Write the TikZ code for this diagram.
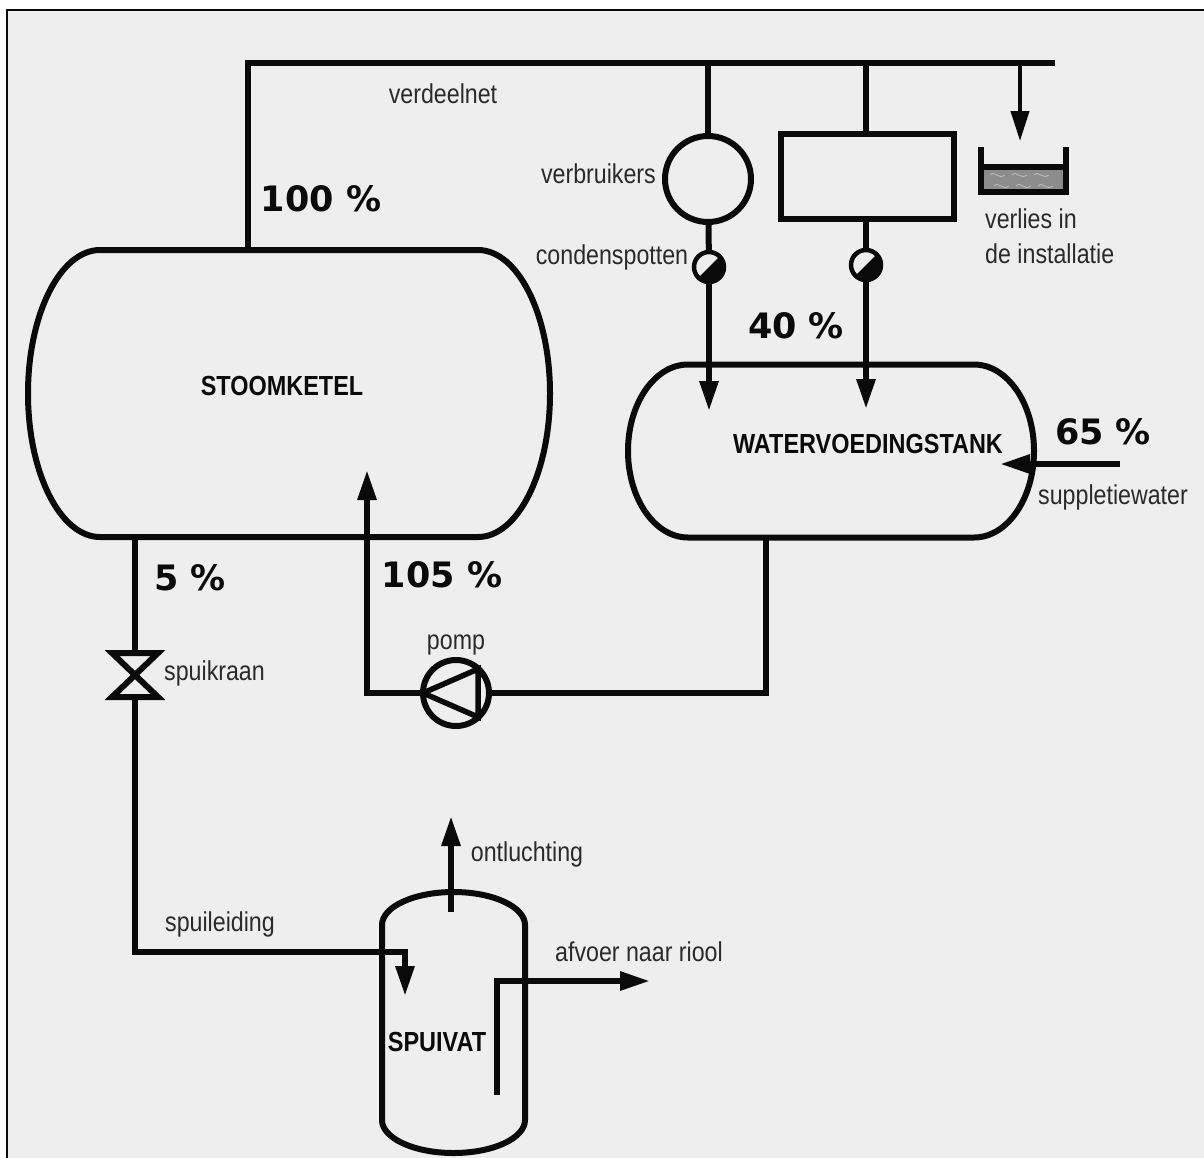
\documentclass[tikz,border=0pt]{standalone}
\usepackage{fontspec}
\usepackage{xcolor}
\setmainfont{Liberation Sans}[FakeStretch=0.85]
\newfontfamily\pctfont{DejaVu Sans}
\usetikzlibrary{positioning,arrows.meta}
\definecolor{bgpanel}{HTML}{EEEEEE}
\definecolor{ink}{HTML}{0A0A0A}
\definecolor{labelink}{HTML}{2A2A2A}
\definecolor{water}{HTML}{8C8C8C}
\newcommand{\vesseloutline}[3]{%
  \draw[pipe] ([xshift=#2pt]#1.north west) -- ([xshift=-#2pt]#1.north east)
    arc[start angle=90,end angle=0,x radius=#2pt,y radius=#3pt]
    -- ([yshift=#3pt]#1.south east)
    arc[start angle=0,end angle=-90,x radius=#2pt,y radius=#3pt]
    -- ([xshift=#2pt]#1.south west)
    arc[start angle=270,end angle=180,x radius=#2pt,y radius=#3pt]
    -- ([yshift=-#3pt]#1.north west)
    arc[start angle=180,end angle=90,x radius=#2pt,y radius=#3pt] -- cycle;}

\begin{document}
\begin{tikzpicture}[
  x=1pt,y=-1pt,
  pipe/.style={draw=ink,line width=6pt},
  arr/.style={pipe,-{Triangle[length=30pt,width=18pt]}},
  vessel/.style={minimum width=#1,inner sep=0pt,outer sep=0pt},
  consumer/.style={draw=ink,line width=6pt,circle,inner sep=0pt,outer sep=0pt,minimum size=86pt},
  load/.style={draw=ink,line width=6pt,inner sep=0pt,outer sep=0pt,minimum width=173pt,minimum height=85pt},
  trap/.style={draw=ink,line width=4.5pt,circle,inner sep=0pt,outer sep=0pt,minimum size=30pt,
    path picture={\fill[ink] (path picture bounding box.south west) -- (path picture bounding box.north east)
      -- (path picture bounding box.south east) -- cycle;}},
  lbl/.style={text=labelink,inner sep=0pt,font=\fontsize{27.3}{30}\selectfont},
  vatname/.style={text=ink,inner sep=0pt,font=\fontsize{27.6}{30}\selectfont\bfseries},
  pct/.style={text=ink,inner sep=0pt,font=\fontsize{35}{40}\selectfont\pctfont\bfseries}
]
\useasboundingbox (0,0) rectangle (1204,1157);
\fill[white] (0,0) rectangle (1204,1157);
\draw[fill=bgpanel,draw=ink,line width=2.5pt] (7,10) rectangle (1215,1170);
% vessels
\node[vessel=522pt,minimum height=287pt] (ketel) at (289,393.5) {};
\node[vessel=406pt,minimum height=173pt] (tank) at (831,451) {};
\node[vessel=143pt,minimum height=261pt] (spuivat) at (453.5,1022.5) {};
\vesseloutline{ketel}{72}{143.5}
\vesseloutline{tank}{60}{86.5}
\vesseloutline{spuivat}{71.5}{33}
\node[vatname] (ketellabel) at (282,386) {STOOMKETEL};
\node[vatname] (tanklabel) at (868,444) {WATERVOEDINGSTANK};
\node[vatname] (vatlabel) at (437,1042) {SPUIVAT};
% consumers
\node[consumer] (verbruiker) at (708,179) {};
\node[load] (toestel) at (867,176.5) {};
\node[trap] (pot1) at (709,267) {};
\node[trap] (pot2) at (866,265) {};
% net
\coordinate (netstart) at (248,63);
\coordinate (netend) at (1055,63);
\coordinate (net1) at (708,63);
\coordinate (net2) at (866,63);
\coordinate (net3) at (1020,63);
\draw[pipe] (ketel.north -| netstart) -- (netstart) -- (netend);
\draw[pipe] (net1) -- (verbruiker);
\draw[pipe] (net2) -- (toestel.north -| net2);
\draw[pipe] (verbruiker) -- (pot1);
\draw[pipe] (toestel.south -| pot2) -- (pot2);
\coordinate (in1) at (709,411);
\coordinate (in2) at (866,409);
\draw[arr] (pot1) -- (in1);
\draw[arr] (pot2) -- (in2);
\coordinate (lek) at (1020,141);
\draw[arr,line width=4pt] (net3) -- (lek);
% basin
\fill[water] (983,168) rectangle (1064,190);
\foreach \bx in {990,1012,1034}{
  \draw[bgpanel,opacity=.45,line width=1pt] (\bx,175) .. controls (\bx+5,170) and (\bx+8,180) .. (\bx+15,175);
  \draw[bgpanel,opacity=.45,line width=1pt] (\bx+4,186) .. controls (\bx+9,181) and (\bx+12,191) .. (\bx+19,186);
}
\draw[pipe,line width=5.5pt] (981,147) -- (981,192) -- (1066,192) -- (1066,147);
\draw[pipe] (981,167) -- (1066,167);
% pump and feed line
\node[circle,draw=ink,line width=6pt,inner sep=0pt,outer sep=0pt,minimum size=66pt] (pomp) at (456,693) {};
\draw[pipe,line width=5.5pt,line join=miter] (pomp.west) -- ([xshift=22pt,yshift=24pt]pomp.center) -- ([xshift=22pt,yshift=-24pt]pomp.center) -- cycle;
\coordinate (tankout) at (766,693);
\coordinate (pompin) at (367,693);
\coordinate (ketelin) at (367,470);
\draw[pipe] (tank.south -| tankout) -- (tankout) -- (pomp.east);
\draw[arr] (pomp.west) -- (pompin) -- (ketelin);
\coordinate (supply) at (1120,464);
\coordinate (supplytip) at (1000,464);
\draw[arr] (supply) -- (supplytip);
% blow-down
\node[inner sep=0pt,outer sep=0pt,minimum width=46pt,minimum height=44pt] (kraan) at (135,675) {};
\draw[pipe,line join=miter] (kraan.north west) -- (kraan.south east) -- (kraan.south west) -- (kraan.north east) -- cycle;
\coordinate (spuibocht) at (135,952);
\coordinate (spuihoek) at (405,952);
\coordinate (spuitip) at (405,996);
\draw[pipe] (ketel.south -| kraan) -- (kraan.north);
\draw[arr] (kraan.south) -- (spuibocht) -- (spuihoek) -- (spuitip);
\coordinate (luchtin) at (451,912);
\coordinate (luchttip) at (451,816);
\draw[arr] (luchtin) -- (luchttip);
\coordinate (afvoerin) at (497,1095);
\coordinate (afvoerhoek) at (497,981);
\coordinate (afvoertip) at (650,981);
\draw[arr] (afvoerin) -- (afvoerhoek) -- (afvoertip);
% labels
\node[lbl] (verdeelnet) at (443,94) {verdeelnet};
\node[lbl,left=9pt of verbruiker,yshift=5pt] (verbruikers) {verbruikers};
\node[lbl] (condenspotten) at (612,257) {condenspotten};
\node[lbl,anchor=west] (verlies) at (985,219) {verlies in};
\node[lbl,anchor=west] (installatie) at (985,254) {de installatie};
\node[lbl] (suppletie) at (1113,497) {suppletiewater};
\node[lbl,above=5pt of pomp] (pomplabel) {pomp};
\node[lbl,right=6pt of kraan,yshift=2pt] (spuikraan) {spuikraan};
\node[lbl] (ontluchting) at (527,854) {ontluchting};
\node[lbl] (spuileiding) at (220,924) {spuileiding};
\node[lbl] (afvoer) at (639,952) {afvoer naar riool};
\node[pct] (p100) at (321,199) {100 \%};
\node[pct] (p40) at (796,326) {40 \%};
\node[pct] (p65) at (1103,432) {65 \%};
\node[pct] (p105) at (442,575) {105 \%};
\node[pct] (p5) at (190,578) {5 \%};
\end{tikzpicture}
\end{document}
